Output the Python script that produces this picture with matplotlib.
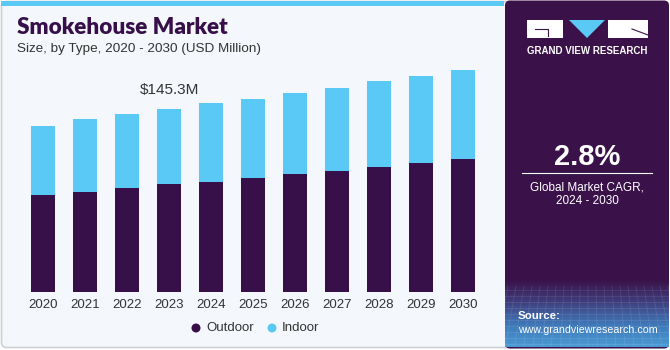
import numpy as np
import matplotlib.pyplot as plt
from matplotlib.patches import FancyBboxPatch, Rectangle, Polygon, Circle
from matplotlib.colors import LinearSegmentedColormap

# --- data ---
years = ['2020', '2021', '2022', '2023', '2024', '2025', '2026', '2027', '2028', '2029', '2030']
outdoor = [77.1, 79.8, 82.9, 85.9, 87.5, 90.6, 93.6, 96.4, 99.1, 102.8, 106.0]
indoor = [54.9, 57.5, 58.4, 59.4, 62.5, 63.1, 64.9, 65.8, 68.4, 69.2, 70.8]
series_names = ['Outdoor', 'Indoor']
highlight_label = '$145.3M'
highlight_idx = 3
cagr_text = '2.8%'

PURPLE = '#37104A'
CYAN = '#5BC9F5'
PANEL = '#3A1249'
BG = '#F4F8FC'

plt.rcParams['font.family'] = ['Liberation Sans', 'DejaVu Sans']

W, H = 670, 350
fig = plt.figure(figsize=(W / 100, H / 100), dpi=100)
fig.patch.set_facecolor('white')

# background layer in pixel coords
bg = fig.add_axes([0, 0, 1, 1])
bg.set_xlim(0, W)
bg.set_ylim(H, 0)
bg.axis('off')

bg.add_patch(FancyBboxPatch((1.5, 1.5), 515, 346, boxstyle='round,pad=0,rounding_size=5',
                            fc=BG, ec='#CFCFD4', lw=1.2))
bg.add_patch(Rectangle((1, 0.5), 503, 5, fc=CYAN, ec='none'))

# right panel
bg.add_patch(FancyBboxPatch((505, 0.5), 164, 348, boxstyle='round,pad=0,rounding_size=5',
                            fc=PANEL, ec='none'))
grad = LinearSegmentedColormap.from_list('g', [PANEL, '#40407F', '#3F78B8', '#4A9AD4'])
bg.imshow(np.linspace(0, 1, 100).reshape(-1, 1), cmap=grad, aspect='auto',
          extent=(505, 669, 347, 280), zorder=2)
for yy in np.arange(290, 346, 6):
    bg.plot([505, 669], [yy, yy], color='white', alpha=0.10, lw=0.6, zorder=3)
for xx in np.arange(508, 669, 8):
    bg.plot([xx, xx + (xx - 587) * 0.15], [286, 346], color='white', alpha=0.10, lw=0.6, zorder=3)

# logo
bg.add_patch(Rectangle((527, 20), 36, 18, fc='white', ec='none'))
bg.plot([535, 548, 548], [29, 29, 36], color=PANEL, lw=0.8)
bg.add_patch(Polygon([(569, 20), (605, 20), (587, 38)], fc=CYAN, ec='none'))
bg.add_patch(Rectangle((608, 20), 40, 18, fc='white', ec='none'))
bg.plot([632, 648], [29, 35], color=PANEL, lw=0.8)
bg.text(587, 51, 'GRAND VIEW RESEARCH', color='white', fontsize=7.0, fontweight='bold',
        ha='center', va='center')

bg.text(587, 157, cagr_text, color='white', fontsize=21, fontweight='bold', ha='center', va='center')
bg.plot([522, 652], [173, 173], color='white', lw=0.8)
bg.text(587, 187, 'Global Market CAGR,', color='white', fontsize=8.5, ha='center', va='center')
bg.text(587, 201, '2024 - 2030', color='white', fontsize=8.5, ha='center', va='center')
bg.text(518, 316, 'Source:', color='white', fontsize=8.2, fontweight='bold', ha='left', va='center', zorder=4)
bg.text(518, 330, 'www.grandviewresearch.com', color='white', fontsize=7.7, ha='left', va='center', zorder=4)

# titles
bg.text(17, 28, 'Smokehouse Market', color=PURPLE, fontsize=16.2, fontweight='heavy',
        family=['Lato', 'Liberation Sans'], ha='left', va='center')
bg.text(17, 49, 'Size, by Type, 2020 - 2030 (USD Million)', color='#333333', fontsize=9.7,
        ha='left', va='center')

# legend
bg.add_patch(Circle((196, 328), 4.5, fc=PURPLE, ec='none'))
bg.text(206, 328, series_names[0], color='#333333', fontsize=9.5, ha='left', va='center')
bg.add_patch(Circle((272, 328), 4.5, fc=CYAN, ec='none'))
bg.text(282, 328, series_names[1], color='#333333', fontsize=9.5, ha='left', va='center')

# chart
ax = fig.add_axes([20 / W, (H - 292) / H, 465 / W, 232 / H])
ax.set_facecolor('none')
x = np.arange(len(years))
ax.bar(x, outdoor, width=0.57, color=PURPLE)
ax.bar(x, indoor, bottom=outdoor, width=0.57, color=CYAN)
ax.set_xlim(-0.548, 10.52)
ax.set_ylim(0, 232 * 0.795)
ax.set_xticks(x)
ax.set_xticklabels(years, fontsize=9.5, color='#333333')
ax.tick_params(axis='x', length=0, pad=5)
ax.set_yticks([])
for s in ax.spines.values():
    s.set_visible(False)

total = outdoor[highlight_idx] + indoor[highlight_idx]
ax.text(highlight_idx, total + 15, highlight_label, ha='center', va='center',
        fontsize=11, color='#333333')

fig.savefig('out.png', dpi=100)
